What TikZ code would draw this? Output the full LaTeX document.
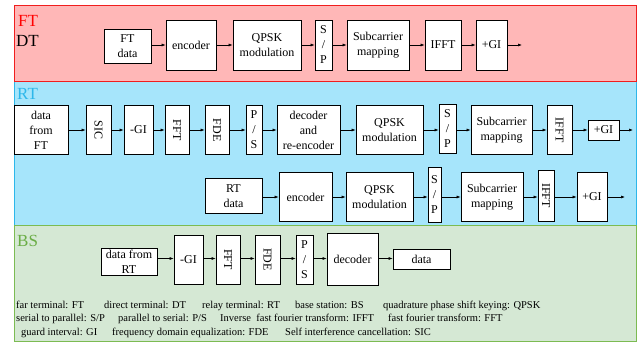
\documentclass[tikz,border=0pt]{standalone}
\usepackage{fontspec}
\setmainfont{Liberation Serif}
\newfontfamily\tms{Liberation Serif}
\usetikzlibrary{arrows.meta, positioning}
\definecolor{ftfill}{HTML}{FFB7B7}
\definecolor{ftline}{HTML}{F01E1E}
\definecolor{rtfill}{HTML}{A6E5FB}
\definecolor{rtline}{HTML}{2DB7EA}
\definecolor{bsfill}{HTML}{D5E8D4}
\definecolor{bsline}{HTML}{7CBB52}
\definecolor{bstext}{HTML}{6AAD45}

\tikzset{
    blk/.style={draw=black, fill=white, line width=0.7pt, inner sep=0pt, align=center, font=\tms\fontsize{12}{15}\selectfont},
    sig/.style={-{Latex[length=4pt,width=3pt]}, line width=0.6pt},
    panel/.style={line width=0.9pt},
    tag/.style={anchor=base west, inner sep=0pt, font=\tms\fontsize{17}{17}\selectfont},
    note/.style={anchor=base west, inner sep=0pt, font=\tms\fontsize{10.5}{12}\selectfont}
}
\newcommand{\vlabel}[1]{\rotatebox{-90}{#1}}

\begin{document}
\begin{tikzpicture}[x=1pt, y=-1pt]
    \useasboundingbox (0,0) rectangle (640,343);

    % terminal panels
    \draw[panel, draw=rtline, fill=rtfill] (14,81) rectangle (636,225);
    \draw[panel, draw=ftline, fill=ftfill] (14,5) rectangle (636,81);
    \draw[panel, draw=bsline, fill=bsfill] (14,225) rectangle (636,341);

    \node[tag, text=red] (ftname) at (18,26) {FT};
    \node[tag] (dtname) at (16,46) {DT};
    \node[tag, text=rtline] (rtname) at (17,99) {RT};
    \node[tag, text=bstext] (bsname) at (17,246) {BS};

    % FT transmitter
    \node[blk, minimum width=47pt, minimum height=34pt] (ftdata) at (127.5,46) {FT\\data};
    \node[blk, minimum width=50pt, minimum height=50pt] (ftenc) at (191,45) {encoder};
    \node[blk, minimum width=68pt, minimum height=50pt] (ftqpsk) at (267,45) {QPSK\\modulation};
    \node[blk, minimum width=17pt, minimum height=50pt] (ftsp) at (323.5,45) {S\\/\\P};
    \node[blk, minimum width=62pt, minimum height=50pt] (ftmap) at (378,45) {Subcarrier\\mapping};
    \node[blk, minimum width=36pt, minimum height=50pt] (ftifft) at (443,45) {IFFT};
    \node[blk, minimum width=31pt, minimum height=50pt] (ftgi) at (491.5,45) {+GI};
    \coordinate (ftout) at (522,45);

    \draw[sig] (ftdata.east |- ftenc) -- (ftenc);
    \foreach \a/\b in {ftenc/ftqpsk, ftqpsk/ftsp, ftsp/ftmap, ftmap/ftifft, ftifft/ftgi}
        \draw[sig] (\a) -- (\b);
    \draw[sig] (ftgi) -- (ftout);

    % RT receive and forward
    \node[blk, minimum width=54pt, minimum height=49pt] (rtin) at (41,130) {data\\from\\FT};
    \node[blk, minimum width=25pt, minimum height=49pt] (rtsic) at (98.5,130) {\vlabel{SIC}};
    \node[blk, minimum width=29pt, minimum height=49pt] (rtgi) at (138.5,130) {-GI};
    \node[blk, minimum width=24pt, minimum height=49pt] (rtfft) at (177,130) {\vlabel{FFT}};
    \node[blk, minimum width=24pt, minimum height=49pt] (rtfde) at (217,130) {\vlabel{FDE}};
    \node[blk, minimum width=16pt, minimum height=49pt] (rtps) at (254,130) {P\\/\\S};
    \node[blk, minimum width=63pt, minimum height=49pt] (rtdec) at (308.5,130) {decoder\\and\\re-encoder};
    \node[blk, minimum width=67pt, minimum height=49pt] (rtqpsk) at (389.5,130) {QPSK\\modulation};
    \node[blk, minimum width=17pt, minimum height=49pt] (rtsp) at (447.5,129) {S\\/\\P};
    \node[blk, minimum width=61pt, minimum height=49pt] (rtmap) at (501.5,130) {Subcarrier\\mapping};
    \node[blk, minimum width=25pt, minimum height=49pt] (rtifft) at (559.5,130) {\vlabel{IFFT}};
    \node[blk, minimum width=31pt, minimum height=20pt] (rtgi2) at (603.5,130) {+GI};
    \coordinate (rtout) at (633,130);

    \foreach \a/\b in {rtin/rtsic, rtsic/rtgi, rtgi/rtfft, rtfft/rtfde, rtfde/rtps, rtps/rtdec,
                       rtdec/rtqpsk, rtqpsk/rtsp, rtsp/rtmap, rtmap/rtifft, rtifft/rtgi2}
        \draw[sig] (\a.east |- rtout) -- (\b.west |- rtout);
    \draw[sig] (rtgi2) -- (rtout);

    % RT own data
    \node[blk, minimum width=57pt, minimum height=35pt] (rtdata) at (233.5,196) {RT\\data};
    \node[blk, minimum width=53pt, minimum height=49pt] (rtenc) at (305.5,197) {encoder};
    \node[blk, minimum width=67pt, minimum height=49pt] (rtqpsk2) at (379.5,197) {QPSK\\modulation};
    \node[blk, minimum width=13pt, minimum height=55pt] (rtsp2) at (434.5,194.5) {S\\/\\P};
    \node[blk, minimum width=62pt, minimum height=49pt] (rtmap2) at (492,197) {Subcarrier\\mapping};
    \node[blk, minimum width=16pt, minimum height=51pt] (rtifft2) at (546,195.5) {\vlabel{IFFT}};
    \node[blk, minimum width=30pt, minimum height=49pt] (rtgi3) at (592,197) {+GI};
    \coordinate (rtout2) at (625,197);

    \foreach \a/\b in {rtdata/rtenc, rtenc/rtqpsk2, rtqpsk2/rtsp2, rtsp2/rtmap2, rtmap2/rtifft2, rtifft2/rtgi3}
        \draw[sig] (\a.east |- rtout2) -- (\b.west |- rtout2);
    \draw[sig] (rtgi3) -- (rtout2);

    % BS receiver
    \node[blk, minimum width=56pt, minimum height=27pt] (bsin) at (129,261.5) {data from\\RT};
    \node[blk, minimum width=29pt, minimum height=49pt] (bsgi) at (188.5,259.5) {-GI};
    \node[blk, minimum width=24pt, minimum height=49pt] (bsfft) at (228,259.5) {\vlabel{FFT}};
    \node[blk, minimum width=25pt, minimum height=49pt] (bsfde) at (267.5,259.5) {\vlabel{FDE}};
    \node[blk, minimum width=17pt, minimum height=49pt] (bsps) at (304.5,259.5) {P\\/\\S};
    \node[blk, minimum width=51pt, minimum height=52pt] (bsdec) at (352.5,259) {decoder};
    \node[blk, minimum width=57pt, minimum height=20pt] (bsdata) at (421.5,259) {data};
    \coordinate (bsrow) at (0,258.5);

    \foreach \a/\b in {bsin/bsgi, bsgi/bsfft, bsfft/bsfde, bsfde/bsps, bsps/bsdec, bsdec/bsdata}
        \draw[sig] (\a.east |- bsrow) -- (\b.west |- bsrow);

    % abbreviations
    \node[note] (n1) at (16,308) {far terminal: FT};
    \node[note] (n2) at (104,308) {direct terminal: DT};
    \node[note] (n3) at (202,308) {relay terminal: RT};
    \node[note] (n4) at (295,308) {base station: BS};
    \node[note] (n5) at (383,308) {quadrature phase shift keying: QPSK};
    \node[note] (n6) at (16,321.5) {serial to parallel: S/P};
    \node[note] (n7) at (118,321.5) {parallel to serial: P/S};
    \node[note] (n8) at (220,321.5) {Inverse\ \ fast fourier transform: IFFT};
    \node[note] (n9) at (388,321.5) {fast fourier transform: FFT};
    \node[note] (n10) at (21,335) {guard interval: GI};
    \node[note] (n11) at (112,335) {frequency domain equalization: FDE};
    \node[note] (n12) at (285,335) {Self interference cancellation: SIC};
\end{tikzpicture}
\end{document}
